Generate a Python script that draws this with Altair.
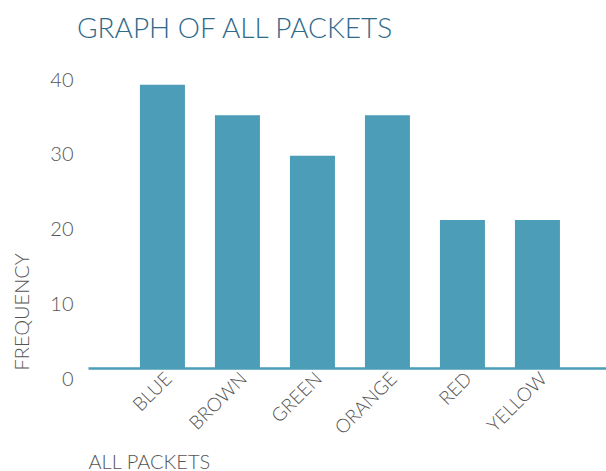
import altair as alt
import pandas as pd

categories = ["BLUE", "BROWN", "GREEN", "ORANGE", "RED", "YELLOW"]
frequency = [37.9, 33.8, 28.4, 33.8, 19.8, 19.8]
y_ticks = [0, 10, 20, 30, 40]

df = pd.DataFrame({"colour": categories, "freq": frequency})

FONT = "Lato"
BAR = "#4b9db8"
GREY = "#555555"

chart = alt.Chart(df).mark_bar(color=BAR).encode(
    x=alt.X(
        "colour:N",
        sort=categories,
        title="ALL PACKETS",
        scale=alt.Scale(paddingInner=0.4, paddingOuter=0.6533, align=0.53),
        axis=alt.Axis(
            labelAngle=-45,
            labelFont=FONT,
            labelFontSize=19,
            labelColor=GREY,
            labelFontWeight=300,
            labelOffset=0,
            labelPadding=1,
            ticks=False,
            domainColor=BAR,
            domainWidth=2.5,
            titleFont=FONT,
            titleFontSize=20,
            titleFontWeight=300,
            titleColor=GREY,
            titleAnchor="start",
            titleAlign="left",
            titleBaseline="alphabetic",
            titleX=0,
            titleY=100,
        ),
    ),
    y=alt.Y(
        "freq:Q",
        title="FREQUENCY",
        scale=alt.Scale(domain=[0, 40], nice=False),
        axis=alt.Axis(
            values=y_ticks,
            grid=False,
            domain=False,
            ticks=False,
            labelFont=FONT,
            labelFontSize=20,
            labelFontWeight=300,
            labelColor=GREY,
            labelPadding=15,
            labelOffset=11,
            titleFont=FONT,
            titleFontSize=20,
            titleFontWeight=300,
            titleColor=GREY,
            titleAnchor="start",
            titleAngle=-90,
            titleAlign="left",
            titleBaseline="alphabetic",
            titleX=-60,
            titleY=301,
        ),
    ),
).properties(
    width=518,
    height=299,
    autosize=alt.AutoSizeParams(type="none"),
    padding={"left": 88, "top": 69, "right": 0, "bottom": 103},
    title=alt.TitleParams(
        "GRAPH OF ALL PACKETS",
        anchor="start",
        frame="group",
        font=FONT,
        fontSize=28,
        fontWeight=300,
        color="#2f6a8a",
        baseline="alphabetic",
        dx=-11,
        dy=27,
        offset=30,
    ),
).configure_view(stroke=None)

chart.save("out.html", embed_options={"renderer": "svg", "actions": False})
